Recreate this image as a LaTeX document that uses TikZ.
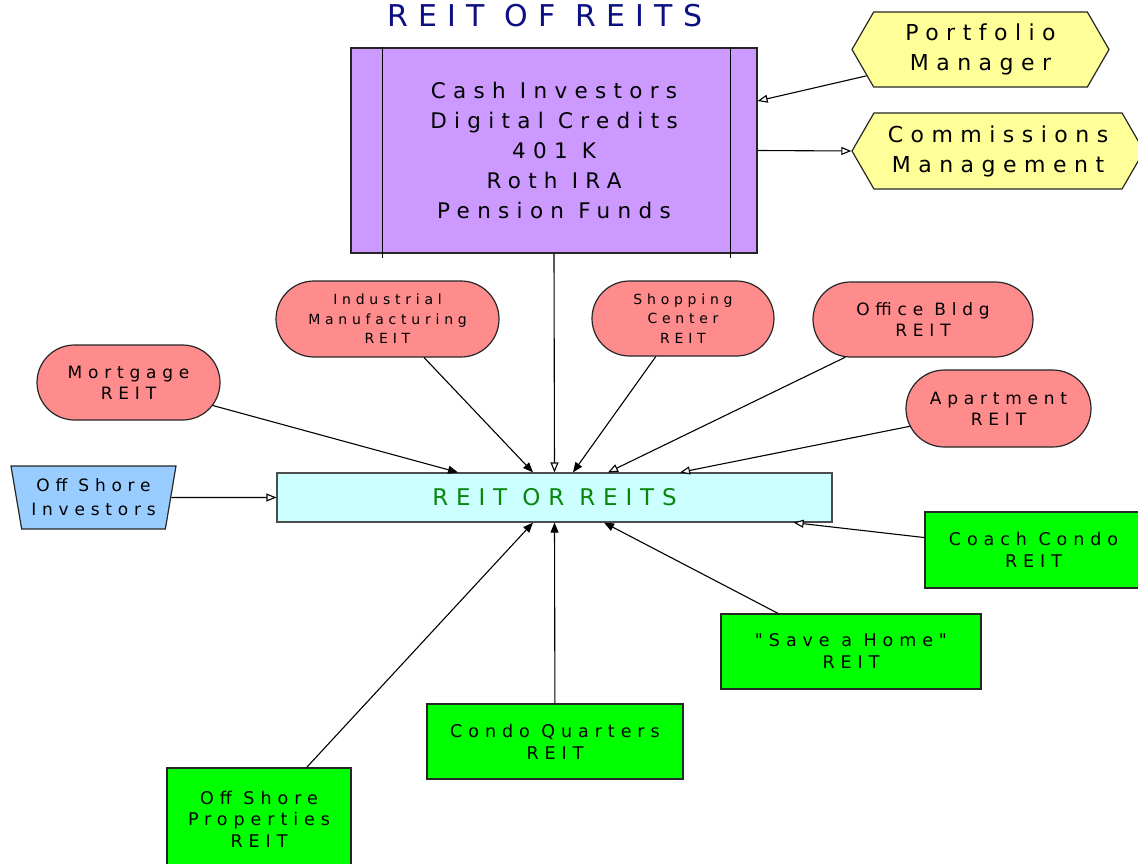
\documentclass[tikz,border=0pt]{standalone}
\usepackage{fontspec}
\setmainfont{DejaVu Sans}[LetterSpace=34, Ligatures=TeXOff]
\usepackage{tikz}
\usetikzlibrary{calc,shapes,shapes.geometric,shapes.misc,shapes.symbols,arrows.meta,positioning}
\definecolor{roxo}{RGB}{204,153,255}
\definecolor{amarelo}{RGB}{255,255,153}
\definecolor{rosa}{RGB}{255,140,140}
\definecolor{ciano}{RGB}{204,255,255}
\definecolor{azulclaro}{RGB}{153,204,255}
\definecolor{verde}{RGB}{0,255,0}
\definecolor{verdeescuro}{RGB}{10,135,10}
\definecolor{marinho}{RGB}{10,15,130}
\tikzset{
	box/.style={draw=black!85, line width=1.2pt, align=center, inner sep=0pt},
	purplebox/.style={box, fill=roxo, minimum width=406, minimum height=205, font=\fontsize{21.5}{30}\selectfont},
	hexbox/.style={box, fill=amarelo, signal, signal to=east and west, signal pointer angle=120, font=\fontsize{22}{30}\selectfont},
	pinkbox/.style={box, fill=rosa, rounded rectangle, minimum height=75, font=\fontsize{17}{21}\selectfont},
	smalltext/.style={font=\fontsize{14}{19.5}\selectfont},
	reitsbox/.style={box, fill=ciano, draw=black!70, minimum width=555, minimum height=49, text=verdeescuro, font=\fontsize{23}{28}\selectfont},
	offbox/.style={box, fill=azulclaro, trapezium, trapezium left angle=74, trapezium right angle=74, shape border rotate=180, trapezium stretches body, minimum width=165, minimum height=63, font=\fontsize{17}{24}\selectfont},
	greenbox/.style={box, fill=verde, minimum height=75, font=\fontsize{17.5}{22}\selectfont},
	fillarrow/.style={-{Triangle[length=10pt,width=8pt]}, line width=1.1pt},
	openarrow/.style={-{Triangle[fill=white,length=10pt,width=8pt]}, line width=1.1pt}
}
\begin{document}
\begin{tikzpicture}[x=1pt,y=-1pt]
	\useasboundingbox (0,0) rectangle (1138,864);
	
	%%%%%% titulo %%%%%%
	\node[anchor=base, text=marinho, font=\fontsize{30}{36}\selectfont] (titulo) at (545,27) {REIT OF REITS};
	
	%%%%%% caixa de investidores %%%%%%
	\node[purplebox] (fundos) at (554,150.5) {Cash Investors\\Digital Credits\\401 K\\Roth IRA\\Pension Funds};
	\draw[line width=1.2pt] ([xshift=32]fundos.north west) -- ([xshift=32,yshift=-4]fundos.south west);
	\draw[line width=1.2pt] ([xshift=-27]fundos.north east) -- ([xshift=-27,yshift=-4]fundos.south east);
	
	%%%%%% hexagonos %%%%%%
	\node[hexbox, minimum width=257, minimum height=75] (gestor) at (980.5,49.5) {Portfolio\\Manager};
	\node[hexbox, minimum width=292, minimum height=76] (comissoes) at (998,151) {Commissions\\Management};
	
	%%%%%% REITs em rosa %%%%%%
	\node[pinkbox, minimum width=183] (hipoteca) at (128.5,382.5) {Mortgage\\REIT};
	\node[pinkbox, smalltext, minimum width=223, minimum height=76] (industria) at (387.5,319) {Industrial\\Manufacturing\\REIT};
	\node[pinkbox, smalltext, minimum width=182] (shopping) at (683,318.5) {Shopping\\Center\\REIT};
	\node[pinkbox, minimum width=220] (escritorio) at (923,319.5) {Office Bldg\\REIT};
	\node[pinkbox, minimum width=185, minimum height=77] (apartamento) at (998.5,408.5) {Apartment\\REIT};
	
	%%%%%% caixa central %%%%%%
	\node[reitsbox] (reits) at (554.5,497.5) {REIT OR REITS};
	\node[offbox] (investidores) at (93.5,497.5) {Off Shore\\Investors};
	
	%%%%%% REITs em verde %%%%%%
	\node[greenbox, minimum width=217, minimum height=76] (coach) at (1033.5,550) {Coach Condo\\REIT};
	\node[greenbox, minimum width=260] (casa) at (851,651.5) {"Save a Home"\\REIT};
	\node[greenbox, minimum width=256] (condo) at (555,741.5) {Condo Quarters\\REIT};
	\node[greenbox, minimum width=184, minimum height=102, font=\fontsize{17.5}{21.5}\selectfont] (propriedades) at (259,819) {Off Shore\\Properties\\REIT};
	
	%%%%%% setas %%%%%%
	\draw[openarrow] (gestor) -- ([yshift=49.5]fundos.east);
	\draw[openarrow] (fundos.east) -- (comissoes.west);
	\draw[openarrow] (fundos.south) -- (reits.north);
	\draw[fillarrow] (hipoteca) -- ([xshift=-96.5]reits.north);
	\draw[fillarrow] (industria) -- ([xshift=-21.5]reits.north);
	\draw[fillarrow] (shopping) -- ([xshift=18.5]reits.north);
	\draw[openarrow] (escritorio) -- ([xshift=53.5]reits.north);
	\draw[openarrow] (apartamento) -- ([xshift=125.5]reits.north);
	\draw[openarrow] (investidores) -- (reits.west);
	\draw[openarrow] (coach) -- ([xshift=-39]reits.south east);
	\draw[fillarrow] (casa) -- ([xshift=49.5]reits.south);
	\draw[fillarrow] (condo) -- (reits.south);
	\draw[fillarrow] (propriedades) -- ([xshift=-21.5]reits.south);
\end{tikzpicture}
\end{document}
